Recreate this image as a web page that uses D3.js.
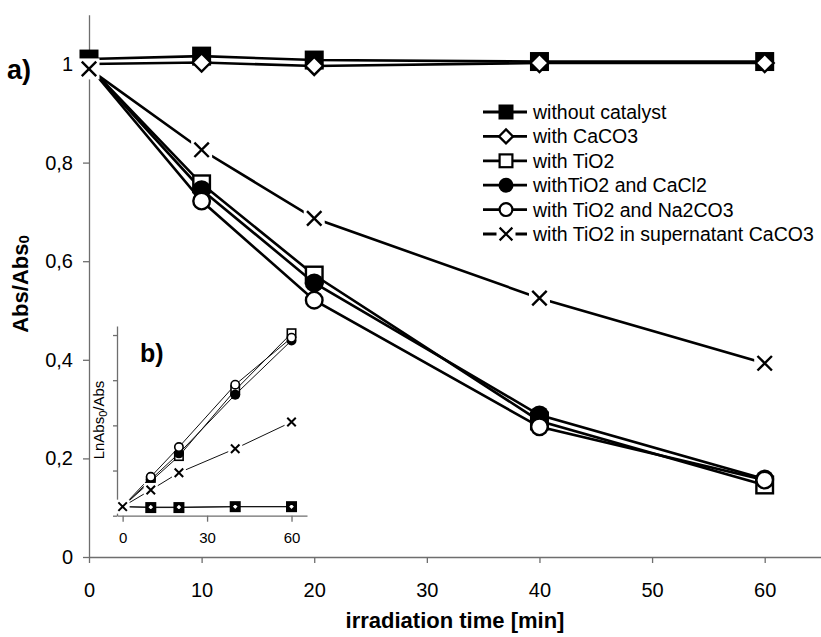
<!DOCTYPE html>
<html>
<head>
<meta charset="utf-8">
<script src="https://cdn.jsdelivr.net/npm/d3@7"></script>
<style>
    body { margin: 0; background: #fff; }
    svg { display: block; font-family: "Liberation Sans", Arial, sans-serif; }
</style>
</head>
<body>
<svg id="chart" width="821" height="637"></svg>
<script>
// Data
const time = [0, 10, 20, 40, 60];
const seriesNames = [
    "without catalyst",
    "with CaCO3",
    "with TiO2",
    "withTiO2 and CaCl2",
    "with TiO2 and Na2CO3",
    "with TiO2 in supernatant CaCO3"
];
const withoutCatalyst = [1.01, 1.016, 1.008, 1.005, 1.005];
const withCaCO3 = [1.0, 1.003, 0.996, 1.002, 1.002];
const withTiO2 = [0.995, 0.757, 0.572, 0.276, 0.146];
const withTiO2CaCl2 = [0.995, 0.745, 0.556, 0.288, 0.158];
const withTiO2Na2CO3 = [0.995, 0.722, 0.521, 0.264, 0.156];
const withTiO2Supernatant = [0.99, 0.826, 0.687, 0.525, 0.393];

// inset b): LnAbs0/Abs
const lnWithout = [0, -0.01, -0.01, 0, 0];
const lnCaCO3 = [0, -0.005, -0.005, 0, 0];
const lnTiO2 = [0, 0.28, 0.56, 1.29, 1.92];
const lnCaCl2 = [0, 0.30, 0.59, 1.24, 1.84];
const lnNa2CO3 = [0, 0.33, 0.66, 1.35, 1.87];
const lnSupernatant = [0, 0.185, 0.376, 0.642, 0.937];

const xTicks = [0, 10, 20, 30, 40, 50, 60];
const yTicks = [0, 0.2, 0.4, 0.6, 0.8, 1];
const yTickLabels = ["0", "0,2", "0,4", "0,6", "0,8", "1"];
const insetXTicks = [0, 30, 60];
const insetYTicks = [-0.1, 0.4, 0.9, 1.4, 1.9];

const mainSeries = [withoutCatalyst, withCaCO3, withTiO2, withTiO2CaCl2, withTiO2Na2CO3, withTiO2Supernatant];
const insetSeries = [lnWithout, lnCaCO3, lnTiO2, lnCaCl2, lnNa2CO3, lnSupernatant];
const markerTypes = ["fsquare", "diamond", "square", "fcircle", "circle", "x"];

const svg = d3.select("#chart");
const axisColor = "#6e6e6e";

// Markers
const marker = (g, type, cx, cy, s, sw) => {
    const h = s / 2;
    if (type === "fsquare") {
        g.append("rect").attr("x", cx - h).attr("y", cy - h).attr("width", s).attr("height", s).attr("fill", "#000");
    } else if (type === "square") {
        g.append("rect").attr("x", cx - h + sw / 2).attr("y", cy - h + sw / 2)
            .attr("width", s - sw).attr("height", s - sw)
            .attr("fill", "#fff").attr("stroke", "#000").attr("stroke-width", sw);
    } else if (type === "diamond") {
        g.append("path").attr("d", `M${cx},${cy - h}L${cx + h},${cy}L${cx},${cy + h}L${cx - h},${cy}Z`)
            .attr("fill", "#fff").attr("stroke", "#000").attr("stroke-width", sw);
    } else if (type === "fcircle") {
        g.append("circle").attr("cx", cx).attr("cy", cy).attr("r", h).attr("fill", "#000");
    } else if (type === "circle") {
        g.append("circle").attr("cx", cx).attr("cy", cy).attr("r", h - sw / 2)
            .attr("fill", "#fff").attr("stroke", "#000").attr("stroke-width", sw);
    } else if (type === "x") {
        g.append("rect").attr("x", cx - h - 2).attr("y", cy - h - 2).attr("width", s + 4).attr("height", s + 4).attr("fill", "#fff");
        const a = h * 0.85;
        g.append("path").attr("d", `M${cx - a},${cy - a}L${cx + a},${cy + a}M${cx + a},${cy - a}L${cx - a},${cy + a}`)
            .attr("stroke", "#000").attr("stroke-width", sw).attr("fill", "none");
    }
};

const styleAxis = (g, fontSize) => {
    g.select(".domain").attr("stroke", axisColor).attr("stroke-width", 1.3);
    g.selectAll(".tick line").attr("stroke", axisColor).attr("stroke-width", 1.3);
    g.selectAll(".tick text").attr("fill", "#000").attr("font-size", fontSize)
        .attr("font-family", "Liberation Sans, Arial, sans-serif");
};

// Main chart a)
const x = d3.scaleLinear().domain([0, 65]).range([89, 821]);
const y = d3.scaleLinear().domain([0, 1.1]).range([557, 14.7]);

const xAxis = svg.append("g").attr("transform", `translate(0,${y(0)})`)
    .call(d3.axisBottom(x).tickValues(xTicks).tickSize(6).tickSizeOuter(0).tickPadding(20));
styleAxis(xAxis, 20);

const yAxis = svg.append("g").attr("transform", `translate(${x(0)},0)`)
    .call(d3.axisLeft(y).tickValues(yTicks).tickSize(6).tickSizeOuter(0).tickPadding(10)
        .tickFormat((d, i) => yTickLabels[i]));
styleAxis(yAxis, 20);

svg.append("text").attr("x", 455).attr("y", 628).attr("text-anchor", "middle")
    .attr("font-size", 22).attr("font-weight", "bold").text("irradiation time [min]");

const yTitle = svg.append("text").attr("transform", "translate(28,284) rotate(-90)")
    .attr("text-anchor", "middle").attr("font-size", 22).attr("font-weight", "bold");
yTitle.append("tspan").text("Abs/Abs");
yTitle.append("tspan").attr("font-size", 15).attr("dy", 1).text("0");

svg.append("text").attr("x", 7).attr("y", 79).attr("font-size", 27).attr("font-weight", "bold").text("a)");

const line = d3.line().x((d, i) => x(time[i])).y(d => y(d));
mainSeries.forEach((s, k) => {
    svg.append("path").datum(s).attr("d", line)
        .attr("fill", "none").attr("stroke", "#000").attr("stroke-width", 2.6);
});
const mainMarks = svg.append("g");
mainSeries.forEach((s, k) => {
    s.forEach((v, i) => {
        if (i === 0 && k !== 0 && k !== 5) return;
        const size = markerTypes[k] === "diamond" ? 18 : markerTypes[k] === "x" ? 17 : 19;
        marker(mainMarks, markerTypes[k], x(time[i]), y(v), size, 2.4);
    });
});

// Legend
const legend = svg.append("g");
seriesNames.forEach((name, k) => {
    const ly = 112 + k * 24.4;
    legend.append("line").attr("x1", 483).attr("x2", 527).attr("y1", ly).attr("y2", ly)
        .attr("stroke", "#000").attr("stroke-width", 2.8);
    marker(legend, markerTypes[k], 506, ly, markerTypes[k] === "diamond" ? 14 : 15, 2.2);
    legend.append("text").attr("x", 533).attr("y", ly + 7).attr("font-size", 19.5).text(name);
});

// Inset b)
const ix = d3.scaleLinear().domain([-2, 65.5]).range([117, 307]);
const iy = d3.scaleLinear().domain([-0.1, 2.0]).range([515.7, 326]);

const ixAxis = svg.append("g").attr("transform", `translate(0,${iy(-0.1)})`)
    .call(d3.axisBottom(ix).tickValues(insetXTicks).tickSize(6).tickSizeOuter(0).tickPadding(11));
styleAxis(ixAxis, 15);

const iyAxis = svg.append("g").attr("transform", `translate(${ix(-2)},0)`)
    .call(d3.axisLeft(iy).tickValues(insetYTicks).tickSize(4).tickSizeOuter(0).tickFormat(""));
styleAxis(iyAxis, 15);

const iTitle = svg.append("text").attr("transform", "translate(104,420) rotate(-90)")
    .attr("text-anchor", "middle").attr("font-size", 15);
iTitle.append("tspan").text("LnAbs");
iTitle.append("tspan").attr("font-size", 11).attr("dy", 3).text("0");
iTitle.append("tspan").attr("dy", -3).text("/Abs");

svg.append("text").attr("x", 140).attr("y", 362).attr("font-size", 25).attr("font-weight", "bold").text("b)");

const iline = d3.line().x((d, i) => ix(time[i])).y(d => iy(d));
insetSeries.forEach(s => {
    svg.append("path").datum(s).attr("d", iline)
        .attr("fill", "none").attr("stroke", "#111").attr("stroke-width", 1);
});
const insetMarks = svg.append("g");
insetSeries.forEach((s, k) => {
    s.forEach((v, i) => {
        if (i === 0 && k !== 5) return;
        const t = markerTypes[k];
        const size = t === "fsquare" ? 11 : t === "diamond" ? 7 : t === "x" ? 10 : 10;
        marker(insetMarks, t, ix(time[i]), iy(v), size, t === "x" ? 2 : 1.6);
    });
});
</script>
</body>
</html>
